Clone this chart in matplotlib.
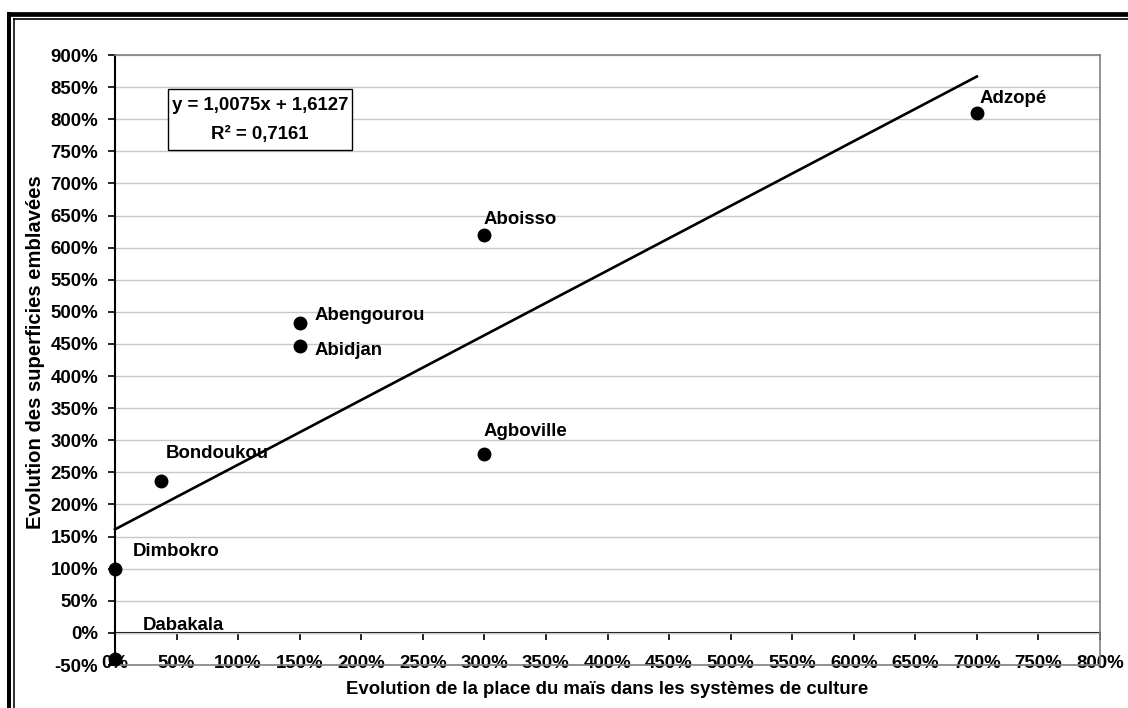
import matplotlib
matplotlib.use("Agg")
import matplotlib.pyplot as plt
from matplotlib.lines import Line2D
from matplotlib.patches import Rectangle
from matplotlib.ticker import PercentFormatter, MultipleLocator

# Departments and their evolution values (1.0 = 100 %)
places = ["Adzopé", "Aboisso", "Abengourou", "Abidjan",
          "Agboville", "Bondoukou", "Dimbokro", "Dabakala"]
maize_share = [7.00, 3.00, 1.50, 1.50, 3.00, 0.37, 0.00, 0.00]
sown_area = [8.10, 6.20, 4.82, 4.47, 2.79, 2.37, 1.00, -0.40]

# Linear trend (as reported on the chart)
slope = 1.0075
intercept = 1.6127
r_squared = 0.7161

x_label = "Evolution de la place du maïs dans les systèmes de culture"
y_label = "Evolution des superficies emblavées"

# label offsets in pixels (dx, dy) relative to each point
label_offsets = {
    "Adzopé": (3, 14), "Aboisso": (-1, 15), "Abengourou": (15, 8),
    "Abidjan": (15, -5), "Agboville": (-1, 22), "Bondoukou": (5, 27),
    "Dimbokro": (18, 17), "Dabakala": (28, 33),
}

W, H = 1128, 708
plt.rcParams["font.family"] = ["Liberation Sans", "DejaVu Sans"]
plt.rcParams["font.weight"] = "bold"
plt.rcParams["axes.unicode_minus"] = False

fig = plt.figure(figsize=(W / 100, H / 100), dpi=100)
fig.patch.set_facecolor("white")
AX_L, AX_R, AX_T, AX_B = 115, 1100, 55, 665
ax = fig.add_axes([AX_L / W, 1 - AX_B / H, (AX_R - AX_L) / W, (AX_B - AX_T) / H])


def ax_frac(px, py):
    """pixel position -> axes fraction"""
    return (px - AX_L) / (AX_R - AX_L), (AX_B - py) / (AX_B - AX_T)


xmin, xmax, ymin, ymax = 0.0, 8.0, -0.5, 9.0
ax.set_xlim(xmin, xmax)
ax.set_ylim(ymin, ymax)

grid_col = "#c8c8c8"
frame_col = "#808080"
fs = 13.4

# gridlines
ax.yaxis.set_major_locator(MultipleLocator(0.5))
ax.xaxis.set_major_locator(MultipleLocator(0.5))
ax.grid(axis="y", color=grid_col, linewidth=1.0)
ax.grid(axis="x", visible=False)
ax.set_axisbelow(True)

for side in ("top", "right", "bottom"):
    ax.spines[side].set_color(frame_col)
    ax.spines[side].set_linewidth(1.2)
ax.spines["left"].set_color("black")
ax.spines["left"].set_linewidth(1.5)

pct = PercentFormatter(xmax=1, decimals=0)
ax.yaxis.set_major_formatter(pct)
ax.xaxis.set_major_formatter(pct)
ax.tick_params(axis="y", direction="out", length=5, width=1.2, color="black",
               pad=7, labelsize=fs)
ax.tick_params(axis="x", length=0, pad=-7.5, labelsize=fs)
for lab in ax.get_xticklabels() + ax.get_yticklabels():
    lab.set_fontweight("bold")

# horizontal axis line crossing at 0 %
zero_pos = (0 - ymin) / (ymax - ymin)
sec = ax.secondary_xaxis(zero_pos)
sec.xaxis.set_major_locator(MultipleLocator(0.5))
sec.tick_params(axis="x", direction="out", length=5, width=1.2, color="black",
                labelbottom=False, labeltop=False)
sec.spines["bottom"].set_color("black")
sec.spines["bottom"].set_linewidth(1.5)
sec.spines["top"].set_visible(False)

# trend line
tx = [min(maize_share), max(maize_share)]
ty = [slope * v + intercept for v in tx]
ax.plot(tx, ty, color="black", linewidth=1.9, zorder=3, clip_on=False)

# points
ax.plot(maize_share, sown_area, linestyle="none", marker="o", markersize=9,
        color="black", zorder=4, clip_on=False)

for name, xv, yv in zip(places, maize_share, sown_area):
    dx, dy = label_offsets[name]
    ax.annotate(name, (xv, yv), xytext=(dx, dy), textcoords="offset pixels",
                ha="left", va="center", fontsize=fs, fontweight="bold",
                zorder=5, annotation_clip=False)

# equation box
eq = f"y = {slope:.4f}x + {intercept:.4f}".replace(".", ",")
r2 = f"R² = {r_squared:.4f}".replace(".", ",")
bx0, by0 = ax_frac(168, 150)
bx1, by1 = ax_frac(352, 89)
ax.add_patch(Rectangle((bx0, by0), bx1 - bx0, by1 - by0, transform=ax.transAxes,
                       facecolor="white", edgecolor="black", linewidth=1.0,
                       zorder=6))
tx0, ty0 = ax_frac(260, 106)
ax.text(tx0, ty0, eq, transform=ax.transAxes, ha="center", va="center",
        fontsize=fs, fontweight="bold", zorder=7)
tx1, ty1 = ax_frac(260, 134)
ax.text(tx1, ty1, r2, transform=ax.transAxes, ha="center", va="center",
        fontsize=fs, fontweight="bold", zorder=7)

ax.set_xlabel(x_label, fontsize=fs, fontweight="bold")
ax.set_ylabel(y_label, fontsize=14.6, fontweight="bold")
ax.xaxis.set_label_coords(*ax_frac(607.5, 690))
ax.xaxis.label.set_verticalalignment("center")
ax.yaxis.set_label_coords(*ax_frac(36, 352))
ax.yaxis.label.set_verticalalignment("center")

# double frame around the chart (top and left edges)
def px_line(xs, ys, lw):
    fig.add_artist(Line2D([x / W for x in xs], [1 - y / H for y in ys],
                          transform=fig.transFigure, color="black",
                          linewidth=lw, solid_capstyle="butt"))

px_line([6.7, W], [14.3, 14.3], 3.4)
px_line([12.7, W], [19.2, 19.2], 1.2)
px_line([8.7, 8.7], [12, H], 2.9)
px_line([13.5, 13.5], [18.4, H], 1.15)

fig.savefig("out.png", dpi=100, facecolor="white")
